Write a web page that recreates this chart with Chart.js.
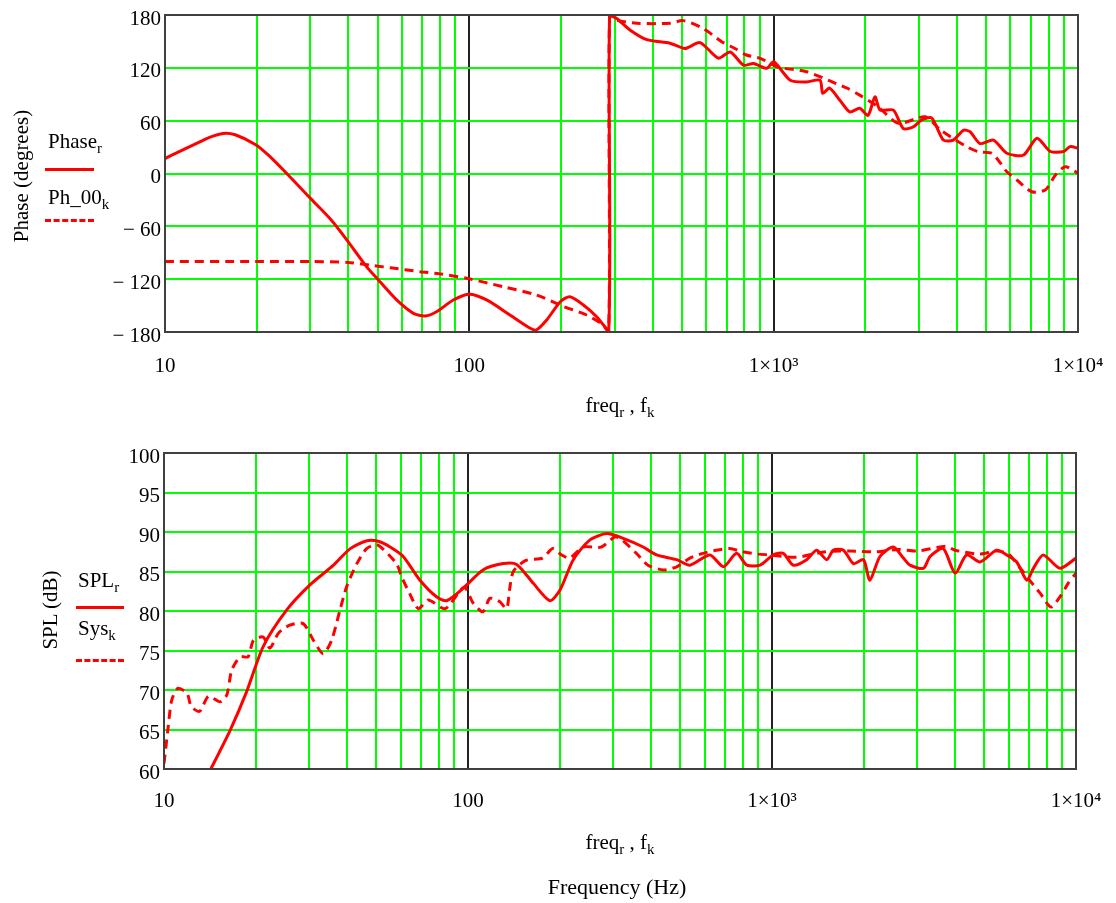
<!DOCTYPE html>
<html>
<head>
<meta charset="utf-8">
<script src="https://cdn.jsdelivr.net/npm/chart.js@4.4.0/dist/chart.umd.min.js"></script>
<style>
  body { margin: 0; background: #fff; width: 1116px; height: 903px; position: relative; overflow: hidden;
         font-family: "Liberation Serif", "Times New Roman", serif; color: #000; }
  canvas { position: absolute; left: 0; }
  .t { position: absolute; font-size: 21px; line-height: 21px; white-space: nowrap; }
  .sb { font-size: 15px; position: relative; top: 5px; }
  .rot { transform: translate(-50%, -50%) rotate(-90deg); }
  .ln { position: absolute; height: 0; border-top: 3px solid #ff0000; }
  .dl { border-top-style: dashed; }
</style>
</head>
<body>
<canvas id="phase" width="1116" height="440" style="top:0"></canvas>
<canvas id="spl" width="1116" height="463" style="top:440px"></canvas>

<!-- top plot texts -->
<div class="t rot" style="left:21px;top:176px">Phase (degrees)</div>
<div class="t" style="left:48px;top:131px">Phase<span class="sb">r</span></div>
<div class="ln" style="left:45px;top:168px;width:49px"></div>
<div class="t" style="left:48px;top:187px">Ph_00<span class="sb">k</span></div>
<div class="ln dl" style="left:45px;top:219px;width:49px"></div>
<div class="t" style="left:470px;top:395px;width:300px;text-align:center">freq<span class="sb">r</span> , f<span class="sb">k</span></div>

<!-- bottom plot texts -->
<div class="t rot" style="left:50px;top:610px">SPL (dB)</div>
<div class="t" style="left:78px;top:570px">SPL<span class="sb">r</span></div>
<div class="ln" style="left:76px;top:606px;width:48px"></div>
<div class="t" style="left:78px;top:618px">Sys<span class="sb">k</span></div>
<div class="ln dl" style="left:76px;top:659px;width:48px"></div>
<div class="t" style="left:470px;top:832px;width:300px;text-align:center">freq<span class="sb">r</span> , f<span class="sb">k</span></div>
<div class="t" style="left:467px;top:876px;width:300px;text-align:center;font-size:22px">Frequency (Hz)</div>

<script>
// ---- data ----
const xTickVals = [10, 20, 30, 40, 50, 60, 70, 80, 90,
  100, 200, 300, 400, 500, 600, 700, 800, 900,
  1000, 2000, 3000, 4000, 5000, 6000, 7000, 8000, 9000, 10000];
const xTickLabels = { 10: "10", 100: "100", 1000: "1×10³", 10000: "1×10⁴" };
const phaseTicks = [-180, -120, -60, 0, 60, 120, 180];
const splTicks = [60, 65, 70, 75, 80, 85, 90, 95, 100];

const phaseRFreq = [10, 11, 12.5, 14, 15.5, 17, 19.8, 22, 25.4, 30, 35, 39.5, 46, 50, 57.7, 65.5, 71.5, 78, 88.6,
  100, 114, 136, 158.5, 166, 179.5, 199, 214, 237, 262, 287, 289, 305, 337, 383, 456, 511, 573, 658, 720, 796,
  859, 949, 1000, 1133, 1284, 1420, 1450, 1527, 1648, 1778, 1918, 2042, 2152, 2237, 2474, 2668, 2876, 3067,
  3307, 3611, 3894, 4200, 4416, 4766, 5273, 5838, 6622, 7332, 8113, 8974, 9420, 10000];
const phaseRDeg = [17, 24, 33, 41, 45.5, 44, 33, 20, -1.7, -28, -52, -75, -106, -120, -143.6, -158.8, -161.8, -157, -143.6,
  -137, -143.6, -160.7, -175.8, -177.7, -166.4, -145.6, -140, -149.3, -162.6, -179, 180, 176, 163, 152, 148, 142, 148.6, 131, 138, 123,
  125, 119.5, 127, 106, 104, 106, 91, 97, 83.5, 70, 74, 66, 87, 72, 72, 51, 53, 61,
  63, 38, 38, 49, 47.5, 34, 38, 23, 21, 40, 25, 25, 30.5, 28.6];

const ph00Freq = [10, 20, 30, 40, 47, 55, 68.8, 80, 98, 129, 166, 204, 243, 270, 287, 289, 305, 355, 456, 505,
  585, 675, 746, 813, 904, 1030, 1284, 1608, 1747, 1918, 2200, 2570, 3148, 3531, 4306, 4706, 5208, 5518, 5838,
  6298, 7058, 7808, 8432, 9081, 10000];
const ph00Deg = [-100, -100, -100, -101, -104, -107, -111.5, -114, -119, -128.5, -138, -151, -160.7, -170, -179.6, 178, 174, 170.6, 170.6, 173.6,
  165, 149.7, 142, 134.6, 130.8, 121, 115.6, 102, 96.8, 89, 76, 57, 64.5, 49.4, 30.5, 24.8, 23, 13.4, 2,
  -7.4, -20.7, -18.7, -1.7, 7.7, 0.2];

const splFreq = [14, 16.5, 18.7, 21.2, 25.3, 30.2, 36.1, 41, 46.5, 51, 55.4, 61.2, 69.5, 78.8, 85, 96.6, 112, 130.6,
  144.5, 164, 186, 201, 222, 252, 286, 324, 377, 417, 486, 537, 625, 692, 765, 826, 914, 1010, 1089, 1175, 1300,
  1402, 1514, 1592, 1718, 1853, 2000, 2099, 2265, 2506, 2705, 2845, 3148, 3311, 3659, 4002, 4370, 4834, 5483,
  5914, 6383, 6888, 7244, 7802, 8851, 10000];
const splDb = [59.4, 64.9, 69.8, 75.5, 80.1, 83.3, 85.8, 87.9, 88.9, 88.8, 88.1, 86.9, 83.9, 81.8, 81.3, 82.9, 85.2, 86,
  85.9, 83.5, 81.3, 82.7, 86.5, 89, 89.8, 89.2, 88.1, 87.1, 86.5, 85.8, 87.1, 85.6, 87.3, 85.8, 85.8, 87.1, 87.3, 85.8, 86.5,
  87.7, 86.5, 87.7, 87.7, 86, 86.5, 83.9, 86.9, 88.1, 86.7, 85.8, 85.4, 86.9, 87.9, 84.8, 87.1, 86.2, 87.7,
  87.1, 86.2, 83.9, 85.4, 87.1, 85.4, 86.7];

const sysFreq = [10, 10.3, 10.6, 11.1, 11.9, 12.3, 13.1, 14, 15.3, 16.1, 16.7, 17.8, 18.9, 19.7, 21.2, 22.3, 23.8, 25.9,
  28.7, 31, 33.4, 35.6, 37.9, 39.9, 43.1, 46.4, 50, 52, 58.2, 60.5, 64.3, 68.6, 74, 84.2, 97, 104, 112, 118, 127,
  134, 137, 141, 155, 176, 190, 203, 216, 239, 275, 307, 358, 391, 439, 486, 537, 593, 656, 726, 802, 900, 983,
  1200, 1500, 1800, 2200, 2600, 3000, 3730, 4000, 4800, 5500, 6000, 6500, 7000, 7640, 8270, 8930, 9420, 10000];
const sysDb = [60.7, 65, 68.7, 70.2, 69.6, 67.9, 67.3, 69.2, 68.5, 69.4, 72.5, 74.2, 74.2, 76.3, 76.7, 75.3, 77.2, 78.2,
  78.4, 76.3, 74.6, 76.3, 80.1, 83.1, 86, 87.9, 88.4, 88, 86, 84.3, 82.2, 80.3, 81.4, 80.3, 83, 81, 79.9, 81.6, 81.2,
  80.3, 82.7, 85, 86.4, 86.7, 87.9, 87.1, 86.7, 88.1, 88.1, 89.4, 87.3, 85.8, 85.2, 85.6, 86.7, 87.3, 87.7, 87.9, 87.5, 87.2, 87.1,
  86.8, 87.5, 87.6, 87.5, 87.8, 87.6, 88.2, 87.7, 87.2, 87.6, 87.2, 85.6, 84, 82.2, 80.5, 82, 83.5, 84.8];

// ---- drawing ----
Chart.defaults.font.family = '"Liberation Serif", "Times New Roman", serif';
Chart.defaults.font.size = 21;
Chart.defaults.color = "#000";

const GREEN = "#00ff00";
const FRAME = "#404040";

function pts(xs, ys) {
  return xs.map((x, i) => ({ x: x, y: ys[i] }));
}
function isDecade(v) {
  return v === 10 || v === 100 || v === 1000 || v === 10000;
}
function yLabel(v) {
  return v < 0 ? "\u2212 " + Math.abs(v) : String(v);
}

// box round the plot area, on top like Mathcad
const frameBox = {
  id: "frameBox",
  afterDraw(chart) {
    const a = chart.chartArea, ctx = chart.ctx;
    ctx.save();
    ctx.strokeStyle = FRAME;
    ctx.lineWidth = 2;
    ctx.strokeRect(a.left, a.top, a.right - a.left, a.bottom - a.top);
    ctx.restore();
  }
};

function makePlot(id, solid, dashed, yTicks, box) {
  const yMin = yTicks[0], yMax = yTicks[yTicks.length - 1];
  return new Chart(document.getElementById(id), {
    type: "line",
    data: {
      datasets: [
        { data: solid, borderColor: "#ff0000", borderWidth: 3, pointRadius: 0, tension: 0.25, fill: false },
        { data: dashed, borderColor: "#ff0000", borderWidth: 3, borderDash: [9, 6], pointRadius: 0, tension: 0.25, fill: false }
      ]
    },
    options: {
      responsive: false,
      animation: false,
      events: [],
      layout: { padding: { top: box.top, right: box.right, left: 0, bottom: 0 } },
      plugins: { legend: { display: false }, tooltip: { enabled: false } },
      scales: {
        x: {
          type: "logarithmic",
          min: 10,
          max: 10000,
          afterBuildTicks: (ax) => { ax.ticks = xTickVals.map((v) => ({ value: v })); },
          afterFit: (ax) => {
            ax.height = box.xh;
            ax.paddingLeft = 0;
            ax.paddingRight = 0;
          },
          ticks: {
            autoSkip: false, maxRotation: 0, minRotation: 0, padding: box.xpad,
            callback: (v) => xTickLabels[v] || ""
          },
          grid: {
            drawTicks: false, lineWidth: 2,
            color: (c) => (c.tick && isDecade(c.tick.value) ? "#222" : GREEN)
          },
          border: { display: false }
        },
        y: {
          min: yMin,
          max: yMax,
          afterBuildTicks: (ax) => { ax.ticks = yTicks.map((v) => ({ value: v })); },
          afterFit: (ax) => {
            ax.width = box.yw;
            ax.paddingTop = 0;
            ax.paddingBottom = 0;
          },
          ticks: { autoSkip: false, padding: 4, labelOffset: 4, callback: yLabel },
          grid: {
            drawTicks: false, lineWidth: 2,
            color: (c) => (c.tick && (c.tick.value === yMin || c.tick.value === yMax) ? FRAME : GREEN)
          },
          border: { display: false }
        }
      }
    },
    plugins: [frameBox]
  });
}

makePlot("phase", pts(phaseRFreq, phaseRDeg), pts(ph00Freq, ph00Deg), phaseTicks,
  { top: 15, right: 38, xh: 108, yw: 165, xpad: 22 });
makePlot("spl", pts(splFreq, splDb), pts(sysFreq, sysDb), splTicks,
  { top: 13, right: 40, xh: 134, yw: 164, xpad: 20 });
</script>
</body>
</html>
